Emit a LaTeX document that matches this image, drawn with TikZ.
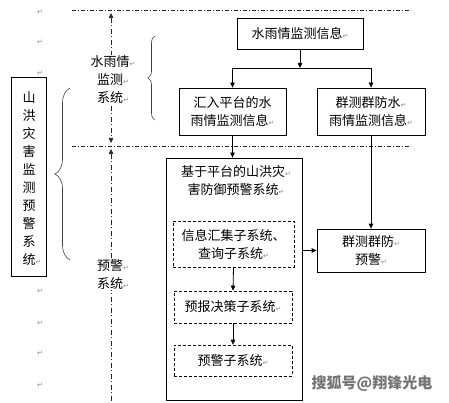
\documentclass[tikz,border=0pt]{standalone}
\usepackage{fontspec}
\setmainfont{Liberation Sans}
\newfontfamily\cjk{Noto Sans CJK SC}
\newfontfamily\symf{DejaVu Sans}
\usetikzlibrary{arrows.meta,decorations.pathreplacing}
\newcommand{\retmk}{{\symf\fontsize{7}{7}\selectfont\color{black!45}↵}}
\begin{document}
\begin{tikzpicture}[x=1pt,y=-1pt,
  every node/.style={font=\cjk\fontsize{13}{18}\selectfont, inner sep=0pt, align=center},
  box/.style={draw, line width=0.8pt},
  dbox/.style={draw, line width=0.6pt, dash pattern=on 3pt off 2pt},
  dd/.style={line width=0.7pt, black!85, dash pattern=on 4pt off 2pt on 1pt off 2pt},
  vd/.style={line width=0.7pt, black!85, dash pattern=on 5pt off 2.5pt on 1pt off 2.5pt},
  arr/.style={line width=0.8pt, -{Triangle[length=5pt,width=4.5pt]}},
  darr/.style={vd, {Triangle[length=5pt,width=4.5pt]}-{Triangle[length=5pt,width=4.5pt]}},
  uarr/.style={vd, {Triangle[length=5pt,width=4.5pt]}-},
  brc/.style={decorate, line width=0.6pt, black!75},
  lbl/.style={fill=white, inner sep=1pt},
  pmk/.style={font=\symf\fontsize{7}{7}\selectfont, text=black!45}
]
\useasboundingbox (0,0) rectangle (449,403);

% horizontal dash-dot lines
\coordinate (h1a) at (72,10);  \coordinate (h1b) at (411,10);
\coordinate (h2a) at (72,146); \coordinate (h2b) at (411,146);
\draw[dd] (h1a) -- (h1b);
\draw[dd] (h2a) -- (h2b);

% vertical dash-dot arrows
\coordinate (v1a) at (111,13);  \coordinate (v1b) at (111,143);
\coordinate (v2a) at (111,149); \coordinate (v2b) at (111,403);
\draw[darr] (v1a) -- (v1b);
\draw[uarr] (v2a) -- (v2b);
\node[lbl] (sy) at (113,80) {水雨情\retmk\\监测\retmk\\系统\retmk};
\node[lbl] (yj) at (113,274.5) {预警\retmk\\系统\retmk};

% left box
\node[box, minimum width=35pt, minimum height=199pt] (left) at (28.5,176.5) {};
\node (lefttxt) at (29,178.5) {山\\洪\\灾\\害\\监\\测\\预\\警\\系\\统\rlap{\retmk}};

% braces
\coordinate (b1a) at (155,120); \coordinate (b1b) at (155,36);
\draw[brc, decoration={brace, amplitude=7pt}] (b1a) -- (b1b);
\coordinate (b2a) at (70,260); \coordinate (b2b) at (70,88);
\draw[brc, decoration={brace, amplitude=15pt}] (b2a) -- (b2b);

% upper boxes
\node[box, minimum width=126pt, minimum height=31pt] (info) at (300,33.5) {水雨情监测信息\retmk};
\node[box, minimum width=107pt, minimum height=47pt] (huiru) at (232.5,111.5) {汇入平台的水\\雨情监测信息\retmk};
\node[box, minimum width=108pt, minimum height=47pt] (qunce) at (371,111.5) {群测群防水\retmk\\雨情监测信息\retmk};

% big box
\node[box, minimum width=136pt, minimum height=242pt] (big) at (234,279) {};
\node (bigt) at (236,181) {基于平台的山洪灾\retmk\\害防御预警系统\retmk};
\node[dbox, minimum width=121pt, minimum height=46pt] (d1) at (233.5,244) {信息汇集子系统、\\查询子系统\retmk};
\node[dbox, minimum width=118pt, minimum height=32pt] (d2) at (233,307) {预报决策子系统\retmk};
\node[dbox, minimum width=118pt, minimum height=31pt] (d3) at (233,360.5) {预警子系统\retmk};

% right warn box
\node[box, minimum width=108pt, minimum height=43pt] (warn) at (371,250.5) {群测群防\retmk\\预警\retmk};

% connectors
\coordinate (jn) at (0,68);
\draw[arr] (info.south) -- (info.south |- jn);
\draw[line width=0.8pt] (huiru.north |- jn) -- (qunce.north |- jn);
\draw[arr] (huiru.north |- jn) -- (huiru.north);
\draw[arr] (qunce.north |- jn) -- (qunce.north);
\draw[arr] (huiru.south) -- (huiru.south |- big.north);
\draw[arr] (qunce.south) -- (warn.north);
\draw[arr] (big.east |- warn.west) -- (warn.west);
\draw[arr] (d1.south) -- (d2.north);
\draw[arr] (d2.south) -- (d3.north);

% paragraph marks
\foreach \yy [count=\i] in {12,42,73,291,323,353,385}
  \node[pmk] (pm\i) at (40,\yy) {↵};

% watermark
\node[font=\cjk\bfseries\fontsize{15}{15}\selectfont, text=black!55] (wm) at (372,384) {搜狐号@翔锋光电};
\end{tikzpicture}
\end{document}
